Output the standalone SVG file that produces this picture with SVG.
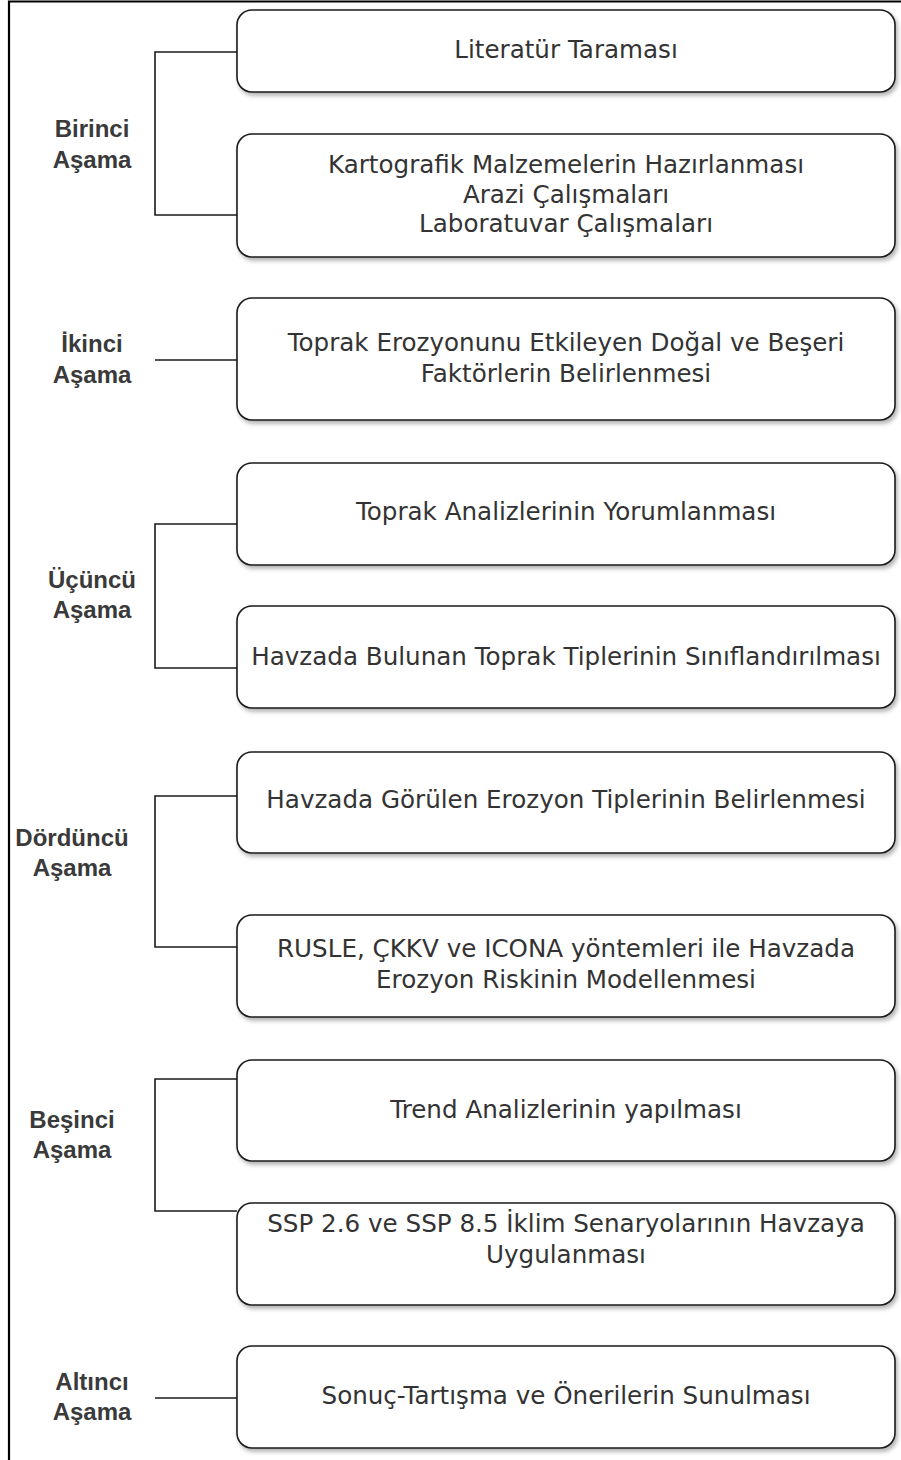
<svg xmlns="http://www.w3.org/2000/svg" width="901" height="1460" viewBox="0 0 901 1460">
<style>
.box{fill:#fff;stroke:#1a1a1a;stroke-width:1.6;filter:url(#sh)}
.t{font-family:"DejaVu Sans",Verdana,sans-serif;font-size:24.6px;fill:#333;text-anchor:middle}
.l{font-family:"Liberation Sans",Arial,sans-serif;font-size:24px;font-weight:bold;fill:#3a3a3a;text-anchor:middle}
.c{fill:none;stroke:#1a1a1a;stroke-width:1.6}
</style>
<defs>
<filter id="sh" x="-5%" y="-20%" width="110%" height="150%">
<feDropShadow dx="2" dy="3" stdDeviation="2.2" flood-color="#000" flood-opacity="0.3"/>
</filter>
</defs>
<rect width="901" height="1460" fill="#fff"/>
<path d="M9,1460 V1.5 H901" fill="none" stroke="#000" stroke-width="2.2"/>
<g id="connectors">
<path class="c" d="M237,52 H155 V215 H240"/>
<path class="c" d="M155,360 H237"/>
<path class="c" d="M237,524 H155 V668 H237"/>
<path class="c" d="M237,796 H155 V947 H237"/>
<path class="c" d="M237,1079 H155 V1211 H237"/>
<path class="c" d="M155,1398 H237"/>
</g>
<g id="lbl1"><text class="l" x="92" y="137">Birinci</text><text class="l" x="92" y="168">Aşama</text></g>
<g id="lbl2"><text class="l" x="92" y="352">İkinci</text><text class="l" x="92" y="383">Aşama</text></g>
<g id="lbl3"><text class="l" x="92" y="588">Üçüncü</text><text class="l" x="92" y="618">Aşama</text></g>
<g id="lbl4"><text class="l" x="72" y="846">Dördüncü</text><text class="l" x="72" y="876">Aşama</text></g>
<g id="lbl5"><text class="l" x="72" y="1128">Beşinci</text><text class="l" x="72" y="1158">Aşama</text></g>
<g id="lbl6"><text class="l" x="92" y="1390">Altıncı</text><text class="l" x="92" y="1420">Aşama</text></g>
<g id="n1"><rect class="box" x="237" y="10" width="658" height="82" rx="15"/><text class="t" x="566" y="58">Literatür Taraması</text></g>
<g id="n2"><rect class="box" x="237" y="134" width="658" height="123" rx="15"/><text class="t" x="566" y="173">Kartografik Malzemelerin Hazırlanması</text><text class="t" x="566" y="203">Arazi Çalışmaları</text><text class="t" x="566" y="232">Laboratuvar Çalışmaları</text></g>
<g id="n3"><rect class="box" x="237" y="298" width="658" height="122" rx="15"/><text class="t" x="566" y="351">Toprak Erozyonunu Etkileyen Doğal ve Beşeri</text><text class="t" x="566" y="382">Faktörlerin Belirlenmesi</text></g>
<g id="n4"><rect class="box" x="237" y="463" width="658" height="102" rx="15"/><text class="t" x="566" y="520">Toprak Analizlerinin Yorumlanması</text></g>
<g id="n5"><rect class="box" x="237" y="606" width="658" height="102" rx="15"/><text class="t" x="566" y="665">Havzada Bulunan Toprak Tiplerinin Sınıflandırılması</text></g>
<g id="n6"><rect class="box" x="237" y="752" width="658" height="101" rx="15"/><text class="t" x="566" y="808">Havzada Görülen Erozyon Tiplerinin Belirlenmesi</text></g>
<g id="n7"><rect class="box" x="237" y="915" width="658" height="102" rx="15"/><text class="t" x="566" y="957">RUSLE, ÇKKV ve ICONA yöntemleri ile Havzada</text><text class="t" x="566" y="988">Erozyon Riskinin Modellenmesi</text></g>
<g id="n8"><rect class="box" x="237" y="1060" width="658" height="101" rx="15"/><text class="t" x="566" y="1118">Trend Analizlerinin yapılması</text></g>
<g id="n9"><rect class="box" x="237" y="1203" width="658" height="102" rx="15"/><text class="t" x="566" y="1232">SSP 2.6 ve SSP 8.5 İklim Senaryolarının Havzaya</text><text class="t" x="566" y="1263">Uygulanması</text></g>
<g id="n10"><rect class="box" x="237" y="1346" width="658" height="102" rx="15"/><text class="t" x="566" y="1404">Sonuç-Tartışma ve Önerilerin Sunulması</text></g>
</svg>
